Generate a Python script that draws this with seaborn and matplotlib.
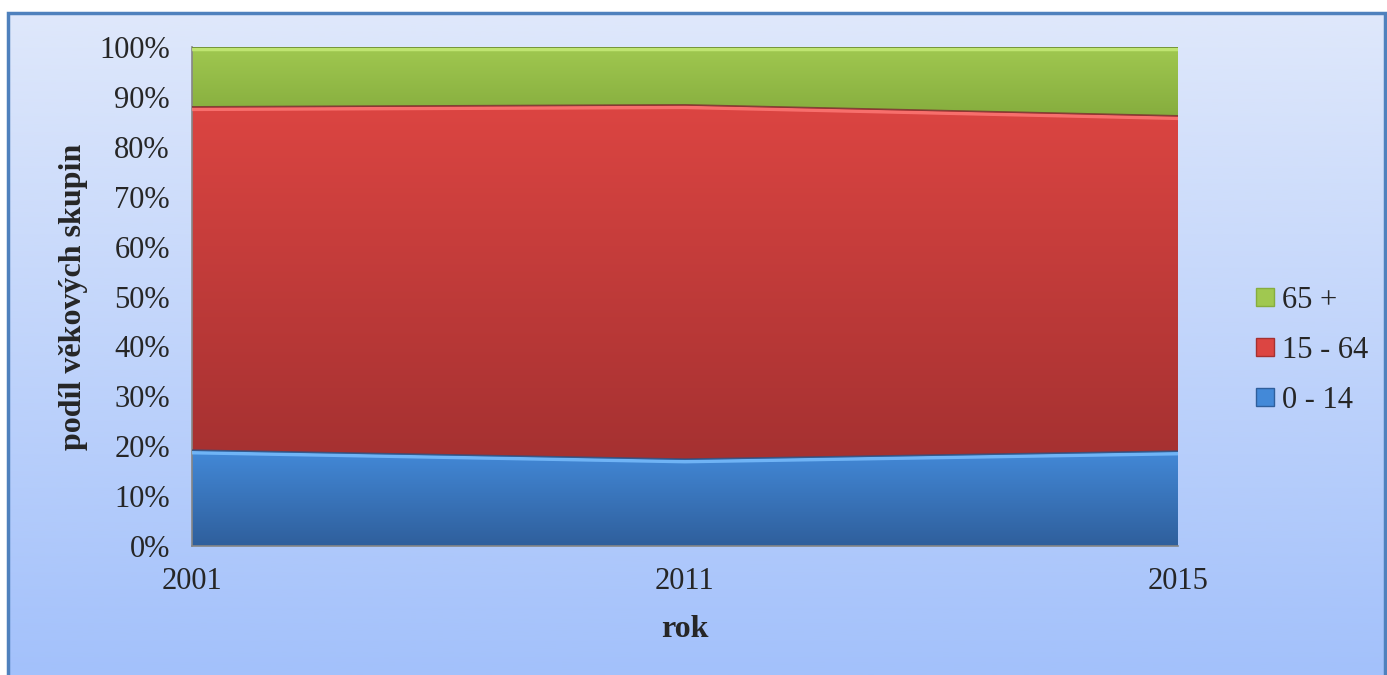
import numpy as np
import pandas as pd
import matplotlib
matplotlib.use("Agg")
import matplotlib.pyplot as plt
from matplotlib.colors import LinearSegmentedColormap
from matplotlib.patches import Rectangle
from matplotlib.lines import Line2D
import seaborn as sns

years = ["2001", "2011", "2015"]
age_0_14 = [19.2, 17.4, 19.0]
age_15_64 = [68.8, 71.0, 67.2]
age_65 = [12.0, 11.6, 13.8]
labels = ["0 - 14", "15 - 64", "65 +"]

sns.set_style("white")
plt.rcParams["font.family"] = ["Liberation Serif", "DejaVu Serif"]

df = pd.DataFrame({"rok": years, "0 - 14": age_0_14, "15 - 64": age_15_64, "65 +": age_65})
x = np.arange(len(years))
lower = np.zeros(len(years))

# (top colour, bottom colour, highlight, edge)
band_colors = [
    ("#4389d8", "#2f5f9c", "#7cc0ff", "#2a4f80"),
    ("#dc4542", "#a53131", "#ff7b78", "#7a2a2a"),
    ("#a0c850", "#86ad3e", "#c8ec7a", "#5e7d2e"),
]

fig = plt.figure(figsize=(13.87, 6.75), dpi=100)

# background panel with gradient
bg = fig.add_axes([0, 0, 1, 1], zorder=-5)
grad = np.linspace(0, 1, 256).reshape(-1, 1)
bg_cmap = LinearSegmentedColormap.from_list("bg", ["#dfe8fb", "#a3c1fb"])
bg.add_patch(Rectangle((0.0, 0.0), 1.0, 1.0, facecolor="white", zorder=-1))
bg.imshow(grad, aspect="auto", cmap=bg_cmap, extent=[8 / 1387, 1385 / 1387, 0, 662 / 675], origin="upper", zorder=0)
bg.add_patch(Rectangle((8 / 1387, -0.01), 1377 / 1387, 662 / 675 + 0.01, fill=False,
                       edgecolor="#4f81bd", linewidth=2.5, zorder=1))
bg.set_xlim(0, 1)
bg.set_ylim(0, 1)
bg.axis("off")

ax = fig.add_axes([192 / 1387, 129 / 675, 986 / 1387, 499 / 675])
ax.patch.set_alpha(0)

for i, col in enumerate(labels):
    vals = df[col].to_numpy()
    upper = lower + vals
    top_c, bot_c, hi_c, edge_c = band_colors[i]
    poly = ax.fill_between(x, lower, upper, color=top_c, linewidth=0)
    cmap = LinearSegmentedColormap.from_list(col, [top_c, bot_c])
    ymin, ymax = lower.min(), upper.max()
    im = ax.imshow(grad, aspect="auto", cmap=cmap, extent=[0, 2, ymin, ymax], origin="upper", zorder=1)
    im.set_clip_path(poly.get_paths()[0], transform=ax.transData)
    poly.set_visible(False)
    sns.lineplot(x=x, y=upper - 0.5, ax=ax, color=hi_c, linewidth=2.5, alpha=0.8, zorder=3, legend=False)
    sns.lineplot(x=x, y=upper, ax=ax, color=edge_c, linewidth=1.2, alpha=0.8, zorder=3, legend=False)
    lower = upper

ax.set_xlim(0, 2)
ax.set_ylim(0, 100)
ax.set_xticks(x)
ax.set_xticklabels(years)
ax.set_yticks(np.arange(0, 101, 10))
ax.set_yticklabels([f"{v}%" for v in range(0, 101, 10)])
ax.tick_params(axis="both", labelsize=22, color="#868686", direction="out", width=1.2)
ax.tick_params(axis="y", length=11, pad=5)
ax.tick_params(axis="x", length=7, pad=8)
for s in ["top", "right"]:
    ax.spines[s].set_visible(False)
for s in ["left", "bottom"]:
    ax.spines[s].set_color("#868686")
    ax.spines[s].set_linewidth(1.2)
ax.set_xlabel("rok", fontsize=23, fontweight="bold", labelpad=14)
ax.set_ylabel("podíl věkových skupin", fontsize=23, fontweight="bold", labelpad=8)

handles = [Line2D([0], [0], marker="s", linestyle="none", markersize=13,
                  markerfacecolor=band_colors[i][0], markeredgecolor=band_colors[i][1])
           for i in range(3)]
ax.legend(handles[::-1], labels[::-1], loc="center left", bbox_to_anchor=(1.045, 0.392),
          frameon=False, fontsize=22, labelspacing=0.68, handletextpad=0.05, handlelength=1.0)

fig.savefig("out.png", dpi=100)
